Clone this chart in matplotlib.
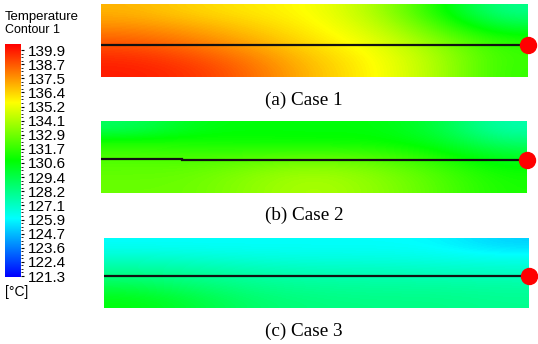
import numpy as np
import matplotlib
matplotlib.use("Agg")
import matplotlib.pyplot as plt
from matplotlib.colors import LinearSegmentedColormap

W, H = 538, 344

tmin, tmax = 121.3, 139.9
tick_labels = ["139.9", "138.7", "137.5", "136.4", "135.2", "134.1", "132.9", "131.7",
               "130.6", "129.4", "128.2", "127.1", "125.9", "124.7", "123.6", "122.4", "121.3"]

# temperature, rows top -> bottom, columns left -> right
case1 = [
    [136.6, 136.0, 135.6, 135.2, 133.8, 131.0, 128.0],
    [137.3, 136.8, 136.1, 135.4, 134.3, 132.0, 129.5],
    [138.2, 137.6, 136.7, 135.7, 134.8, 133.0, 131.2],
    [139.0, 138.4, 137.4, 136.1, 135.2, 133.7, 131.6],
    [139.4, 139.0, 137.9, 136.4, 135.3, 133.8, 131.5],
]
case2 = [
    [128.8, 130.2, 130.5, 130.4, 130.5, 129.6, 127.4],
    [131.2, 131.0, 130.8, 130.7, 130.7, 130.2, 128.6],
    [132.0, 131.8, 132.0, 132.3, 132.0, 131.2, 130.0],
    [132.3, 132.4, 133.0, 133.5, 133.0, 132.0, 130.8],
    [132.5, 132.5, 133.2, 133.8, 133.2, 132.2, 131.0],
]
case3 = [
    [126.0, 126.0, 126.0, 126.0, 126.0, 125.9, 125.1],
    [127.0, 126.8, 126.6, 126.5, 126.5, 126.4, 126.3],
    [128.0, 127.8, 127.5, 127.3, 127.3, 127.2, 127.1],
    [129.3, 128.6, 128.1, 127.9, 127.8, 127.8, 127.7],
    [130.4, 129.6, 128.6, 128.3, 128.2, 128.2, 128.0],
]
captions = ["(a) Case 1", "(b) Case 2", "(c) Case 3"]
line_y = [0.44, 0.46, 0.46]

cmap = LinearSegmentedColormap.from_list(
    "ansys", ["#0000ff", "#00ffff", "#00ff00", "#ffff00", "#ff0000"])

fig = plt.figure(figsize=(W / 100, H / 100), dpi=100)


def add_px(x0, y0, x1, y1):
    return fig.add_axes([x0 / W, 1 - y1 / H, (x1 - x0) / W, (y1 - y0) / H])


# panel boxes in pixels: left, top, right, bottom
boxes = [(101, 4, 528, 77), (101, 121, 527, 193), (104, 238, 529, 308)]
caption_y = [100, 215, 331]

for i, field in enumerate([case1, case2, case3]):
    x0, y0, x1, y1 = boxes[i]
    ax = add_px(x0, y0, x1, y1)
    ax.imshow(np.array(field), cmap=cmap, vmin=tmin, vmax=tmax, interpolation="bicubic",
              extent=[0, 1, 0, 1], aspect="auto")
    if i == 1:
        ax.plot([0, 0.19], [line_y[i] + 0.01, line_y[i] + 0.01], color="#111111", lw=1.6)
        ax.plot([0.19, 1], [line_y[i], line_y[i]], color="#111111", lw=1.6)
    else:
        ax.plot([0, 1], [line_y[i], line_y[i]], color="#111111", lw=1.6)
    ax.plot([1], [line_y[i]], "o", color="#ff0000", ms=11.5, clip_on=False, zorder=5)
    ax.set_xlim(0, 1)
    ax.set_ylim(0, 1)
    ax.axis("off")
    fig.text(304 / W, 1 - caption_y[i] / H, captions[i], ha="center", va="center",
             family="Liberation Serif", fontsize=13.8)

# legend bar
cb = add_px(5, 44, 21, 277)
grad = np.linspace(tmax, tmin, 256).reshape(-1, 1)
cb.imshow(grad, cmap=cmap, vmin=tmin, vmax=tmax, aspect="auto", extent=[0, 1, 277, 44])
cb.set_xlim(0, 1)
cb.set_ylim(277, 44)
cb.set_xticks([])
cb.yaxis.tick_right()
cb.set_yticks(np.linspace(50, 276, len(tick_labels)))
cb.set_yticklabels(tick_labels, family="Liberation Sans", fontsize=11)
cb.set_yticks(np.linspace(50, 276, 4 * (len(tick_labels) - 1) + 1), minor=True)
cb.tick_params(axis="y", which="major", direction="out", length=2, width=0.8, pad=3)
cb.tick_params(axis="y", which="minor", direction="out", length=1.2, width=0.6)
for s in cb.spines.values():
    s.set_visible(False)

fig.text(5 / W, 1 - 17 / H, "Temperature", ha="left", va="center",
         family="Liberation Sans", fontsize=9.5)
fig.text(5 / W, 1 - 30 / H, "Contour 1", ha="left", va="center",
         family="Liberation Sans", fontsize=9)
fig.text(5 / W, 1 - 292 / H, "[°C]", ha="left", va="center",
         family="Liberation Sans", fontsize=10)

fig.savefig("out.png", dpi=100)
